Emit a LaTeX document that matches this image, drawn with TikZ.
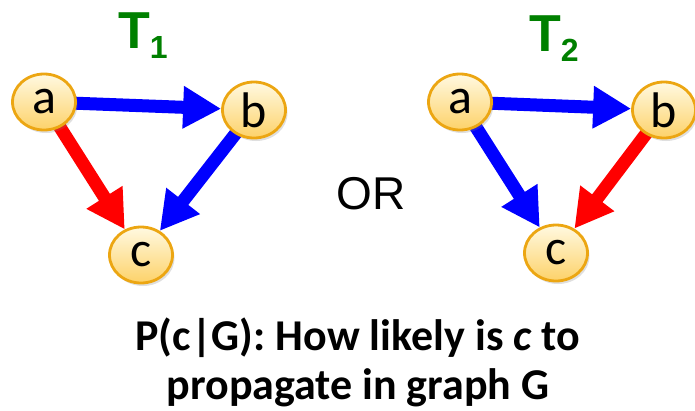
\documentclass[tikz,border=0pt]{standalone}
\usepackage{fontspec}
\setmainfont{Carlito}
\newfontfamily\arialfont{Liberation Sans}
\usetikzlibrary{arrows.meta,shapes.geometric,shadows}
\definecolor{nodetop}{RGB}{255,249,225}
\definecolor{nodebottom}{RGB}{253,210,105}
\definecolor{nodeborder}{RGB}{236,166,18}
\definecolor{treegreen}{RGB}{0,128,0}
\pgfdeclarelayer{background}
\pgfsetlayers{background,main}
\tikzset{
  vertex/.style={ellipse, draw=nodeborder, line width=2.8pt, top color=nodetop,
    bottom color=nodebottom, minimum width=63pt, minimum height=56pt, inner sep=0pt,
    font=\fontsize{50}{50}\selectfont,
    drop shadow={opacity=0.25, shadow xshift=2pt, shadow yshift=-3pt}},
  blueedge/.style={line width=13pt, blue, -{Triangle[length=38pt,width=40pt]}},
  rededge/.style={blueedge, red},
  treelabel/.style={text=treegreen, font=\arialfont\bfseries, inner sep=0pt}
}
\begin{document}
\begin{tikzpicture}[x=1pt,y=-1pt]
  \useasboundingbox (0,0) rectangle (695,410);
  % Label the two trees
  \node[treelabel] (t1) at (143,36) {\fontsize{52}{52}\selectfont T\raisebox{-10pt}{\fontsize{32}{32}\selectfont 1}};
  \node[treelabel] (t2) at (554,39) {\fontsize{52}{52}\selectfont T\raisebox{-10pt}{\fontsize{32}{32}\selectfont 2}};
  % Vertices of T1
  \node[vertex] (a1) at (44,102) {a};
  \node[vertex] (b1) at (254,110) {b};
  \node[vertex] (c1) at (141,255) {c};
  % Vertices of T2
  \node[vertex] (a2) at (460,102) {a};
  \node[vertex] (b2) at (664,110) {b};
  \node[vertex] (c2) at (556,253) {c};
  % Edges go behind the vertices
  \begin{pgfonlayer}{background}
    \draw[blueedge] (a1.center) -- (b1);
    \draw[rededge] (a1.center) -- (c1);
    \draw[blueedge] (b1.center) -- (c1);
    \draw[blueedge] (a2.center) -- (b2);
    \draw[blueedge] (a2.center) -- (c2);
    \draw[rededge] (b2.center) -- (c2);
  \end{pgfonlayer}
  \node[font=\arialfont\fontsize{46}{46}\selectfont, inner sep=0pt] (or) at (371,194) {OR};
  % The question below
  \node[font=\bfseries\fontsize{44}{49}\selectfont, align=center, inner sep=0pt] (question) at (358,362)
    {P(c|G): How likely is \textit{c} to\\propagate in graph G};
\end{tikzpicture}
\end{document}
